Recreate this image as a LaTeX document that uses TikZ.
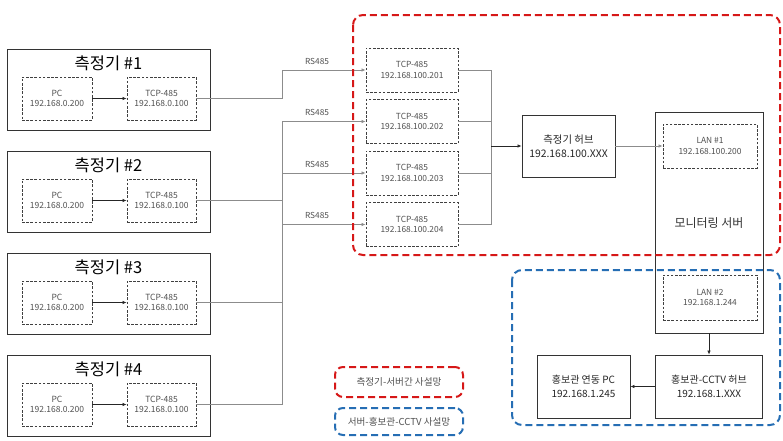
\documentclass[tikz,border=0pt]{standalone}
\usepackage{fontspec}
\setmainfont{Noto Sans CJK KR}
\usetikzlibrary{arrows.meta}
\definecolor{netred}{RGB}{214,24,24}
\definecolor{netblue}{RGB}{38,110,180}
\definecolor{txtgray}{RGB}{80,80,80}
\definecolor{wiregray}{RGB}{140,140,140}
\begin{document}
\begin{tikzpicture}[x=1pt,y=-1pt,
  solidbox/.style={draw=black!80,line width=0.9pt,inner sep=0pt,align=center},
  dbox/.style={draw=black!75,line width=0.9pt,dash pattern=on 2.6pt off 1.6pt,inner sep=0pt,align=center,text=txtgray,font=\fontsize{8.5}{10.5}\selectfont},
  wire/.style={draw=wiregray,line width=0.6pt},
  darkwire/.style={draw=black!85,line width=0.6pt},
  arr/.style={-{Latex[length=4pt,width=3.4pt]}},
  region/.style={line width=2pt,dash pattern=on 7pt off 4pt,rounded corners=10pt},
  small/.style={font=\fontsize{8.3}{10}\selectfont,text=txtgray},
  mid/.style={font=\fontsize{10}{13.5}\selectfont,text=black!85,align=center},
]
\useasboundingbox (0,0) rectangle (783,440);

% meter groups
\foreach \i/\yy in {1/49,2/151,3/253,4/355}{
  \node[solidbox,minimum width=203pt,minimum height=81pt] (m\i) at (108.5,\yy+40.5) {};
  \node[font=\fontsize{16.5}{16.5}\selectfont] (mt\i) at (108.5,\yy+14) {측정기 \#\i};
  \node[dbox,minimum width=70pt,minimum height=43pt] (pc\i) at (57,\yy+49.5) {PC\\192.168.0.200};
  \node[dbox,minimum width=69pt,minimum height=43pt] (tcp\i) at (161.5,\yy+49.5) {TCP-485\\192.168.0.100};
  \draw[darkwire,arr] (pc\i) -- (tcp\i);
}

% TCP-485 converters
\foreach \j/\yc in {1/70,2/121.5,3/173,4/224.5}{
  \node[dbox,minimum width=92pt,minimum height=44pt,font=\fontsize{8.4}{10.5}\selectfont] (r\j) at (412,\yc) {TCP-485\\192.168.100.20\j};
  \node[small] (rs\j) at (317,\yc-9) {RS485};
  \draw[wire,arr] (tcp\j.east) -- ++(86,0) |- (r\j.west);
}

% hub
\node[solidbox,minimum width=93pt,minimum height=62pt,mid,font=\fontsize{10.4}{14}\selectfont] (hub) at (568.5,146) {측정기 허브\\192.168.100.XXX};
\coordinate (hj) at (491,146);
\foreach \j in {1,2,3,4}{
  \draw[wire] (r\j.east) -| (hj);
}
\draw[darkwire,arr] (hj) -- (hub.west);

% server
\node[solidbox,minimum width=108pt,minimum height=221pt] (srv) at (709,222.5) {};
\node[font=\fontsize{12}{12}\selectfont,text=black!80] (srvl) at (709,223) {모니터링 서버};
\node[dbox,minimum width=94pt,minimum height=44pt,font=\fontsize{8.4}{10.5}\selectfont] (lan1) at (710,146) {LAN \#1\\192.168.100.200};
\node[dbox,minimum width=94pt,minimum height=45pt,font=\fontsize{8.4}{10.5}\selectfont] (lan2) at (710,297.5) {LAN \#2\\192.168.1.244};
\draw[wire,arr] (hub.east) -- (lan1.west);

% CCTV side
\node[solidbox,minimum width=107pt,minimum height=63pt,mid] (cctv) at (709,386.5) {홍보관-CCTV 허브\\192.168.1.XXX};
\node[solidbox,minimum width=93pt,minimum height=63pt,mid] (hpc) at (583.5,386.5) {홍보관 연동 PC\\192.168.1.245};
\draw[darkwire,arr] (srv.south) -- (cctv.north);
\draw[darkwire,arr] (cctv.west) -- (hpc.east);

% network regions
\draw[region,draw=netred] (353,15) rectangle (780,255);
\draw[region,draw=netblue] (512,270) rectangle (780,425);

% legend
\node[region,draw=netred,rounded corners=8pt,minimum width=128pt,minimum height=30pt,font=\fontsize{9.6}{10}\selectfont,text=txtgray] (legr) at (399,382) {측정기-서버간 사설망};
\node[region,draw=netblue,rounded corners=8pt,minimum width=128pt,minimum height=27pt,font=\fontsize{9.6}{10}\selectfont,text=txtgray] (legb) at (399,421.5) {서버-홍보관-CCTV 사설망};
\end{tikzpicture}
\end{document}
